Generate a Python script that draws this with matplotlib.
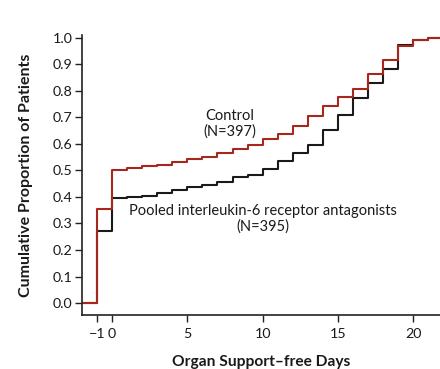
import numpy as np
import matplotlib
matplotlib.use('Agg')
import matplotlib.pyplot as plt

# Cumulative proportion of patients by organ support-free days (-1 = death)
days = np.arange(-2, 22)
control = [0.0, 0.353, 0.502, 0.507, 0.515, 0.521, 0.530, 0.542, 0.550, 0.567,
           0.580, 0.596, 0.617, 0.637, 0.668, 0.703, 0.741, 0.776, 0.808, 0.864,
           0.917, 0.970, 0.992, 1.0]
il6 = [0.0, 0.272, 0.397, 0.399, 0.405, 0.414, 0.426, 0.437, 0.445, 0.458,
       0.475, 0.483, 0.506, 0.537, 0.565, 0.596, 0.653, 0.709, 0.772, 0.829,
       0.882, 0.974, 0.992, 1.0]
xticks = [-1, 0, 5, 10, 15, 20]
xticklabels = ['\u22121', '0', '5', '10', '15', '20']
yticks = np.arange(0, 11) / 10

plt.rcParams['font.family'] = ['Lato', 'DejaVu Sans']

fig = plt.figure(figsize=(4.4, 3.69), dpi=100)
ax = fig.add_axes([82 / 440, 54 / 369, 358 / 440, 280 / 369])

x_ext = np.append(days, 22)
ax.plot(x_ext, np.append(il6, il6[-1]), drawstyle='steps-post',
        color='#1a1a1a', lw=1.5)
ax.plot(x_ext, np.append(control, control[-1]), drawstyle='steps-post',
        color='#a8271c', lw=1.5)

ax.set_xlim(-2, 21.78)
ax.set_ylim(-0.045, 1.01)

ax.set_xticks(xticks)
ax.set_xticklabels(xticklabels)
ax.set_yticks(yticks)
ax.set_yticklabels([f'{v:.1f}' for v in yticks])
ax.tick_params(direction='out', length=5, width=1, color='#222222',
               labelsize=10.3, labelcolor='#1a1a1a', pad=2)
ax.tick_params(axis='x', pad=4)

for side in ('top', 'right'):
    ax.spines[side].set_visible(False)
for side in ('left', 'bottom'):
    ax.spines[side].set_linewidth(1.2)
    ax.spines[side].set_color('#222222')

ax.set_xlabel('Organ Support\u2013free Days', fontsize=11.2, fontweight='bold',
              color='#1a1a1a', labelpad=11)
ax.set_ylabel('Cumulative Proportion of Patients', fontsize=11.5,
              fontweight='bold', color='#1a1a1a', labelpad=14)

ax.text(7.83, 0.675, 'Control\n(N=397)', ha='center', va='center',
        fontsize=10.5, color='#1a1a1a', linespacing=1.15)
ax.text(10.0, 0.317, 'Pooled interleukin-6 receptor antagonists\n(N=395)',
        ha='center', va='center', fontsize=10.5, color='#1a1a1a',
        linespacing=1.15)

fig.savefig('out.png', dpi=100)
